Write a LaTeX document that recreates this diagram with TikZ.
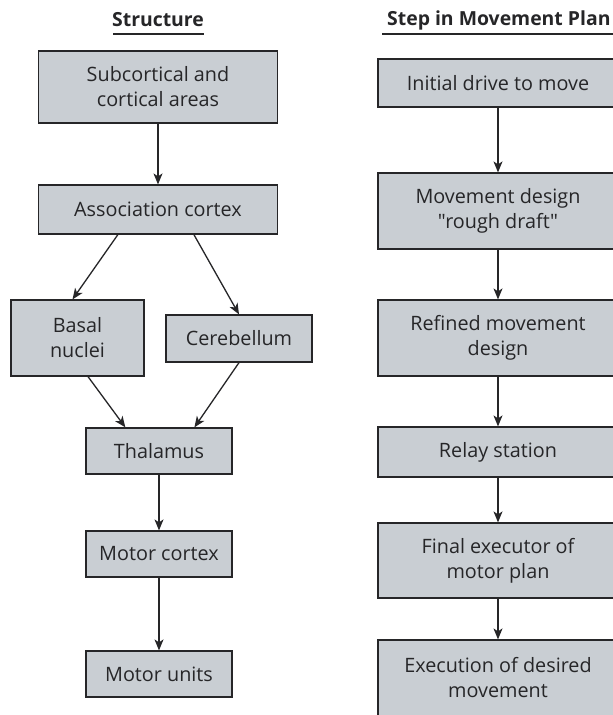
\documentclass[tikz,border=0pt]{standalone}
\usepackage{fontspec}
\setmainfont{Open Sans}[Ligatures=TeXOff]
\usetikzlibrary{arrows.meta,calc}
\definecolor{boxfill}{RGB}{201,206,211}
\definecolor{ink}{RGB}{38,38,40}
\tikzset{
  box/.style={draw=ink, fill=boxfill, line width=1.2pt, inner sep=0pt,
    align=center, text=ink, font=\fontsize{19.8}{25}\selectfont},
  flow/.style={draw=ink, line width=1.3pt,
    -{Stealth[length=11pt,width=9pt,inset=3pt]}},
  heading/.style={text=ink, font=\fontsize{19.4}{22}\selectfont\bfseries, inner sep=0pt}
}
\begin{document}
\begin{tikzpicture}[x=1pt,y=-1pt]
\useasboundingbox (0,0) rectangle (613,715);
\clip (0,0) rectangle (613,715);
\fill[white] (0,0) rectangle (613,715);

% column headings
\node[heading] (hstruct) at (158,20) {Structure};
\draw[ink, line width=2pt] (113,34) -- (204,34);
\node[heading, anchor=west] (hstep) at (387,20) {Step in Movement Plan};
\draw[ink, line width=2pt] (382,34) -- (620,34);

% structures
\node[box, minimum width=239pt, minimum height=72pt] (sub) at (158,87) {Subcortical and\\cortical areas};
\node[box, minimum width=239pt, minimum height=49pt] (assoc) at (158,209.5) {Association cortex};
\node[box, minimum width=133pt, minimum height=76pt] (basal) at (77.5,338) {Basal\\nuclei};
\node[box, minimum width=146pt, minimum height=47pt] (cereb) at (239,338.5) {Cerebellum};
\node[box, minimum width=146pt, minimum height=46pt] (thal) at (159,451) {Thalamus};
\node[box, minimum width=146pt, minimum height=46pt] (mctx) at (159,554) {Motor cortex};
\node[box, minimum width=146pt, minimum height=46pt] (munits) at (159,674) {Motor units};

\draw[flow] (sub.south) -- (assoc.north);
\draw[flow] ($(assoc.south west)+(80,0)$) -- ($(basal.north)+(-5,0)$);
\draw[flow] ($(assoc.south west)+(156,0)$) -- (cereb.north);
\draw[flow] ($(basal.south)+(10.5,0)$) -- ($(thal.north west)+(40,0)$);
\draw[flow] (cereb.south) -- ($(thal.north west)+(109,0)$);
\draw[flow] (thal.south) -- (mctx.north);
\draw[flow] (mctx.south) -- (munits.north);

% steps of the movement plan
\node[box, minimum width=240pt, minimum height=48pt] (s1) at (498,83) {Initial drive to move};
\node[box, minimum width=240pt, minimum height=76pt] (s2) at (498,211) {Movement design\\"rough draft"};
\node[box, minimum width=240pt, minimum height=76pt] (s3) at (498,338) {Refined movement\\design};
\node[box, minimum width=240pt, minimum height=50pt] (s4) at (498,452) {Relay station};
\node[box, minimum width=240pt, minimum height=75pt] (s5) at (498,560.5) {Final executor of\\motor plan};
\node[box, minimum width=240pt, minimum height=76pt] (s6) at (498,678) {Execution of desired\\movement};

\draw[flow] (s1.south) -- (s2.north);
\draw[flow] (s2.south) -- (s3.north);
\draw[flow] (s3.south) -- (s4.north);
\draw[flow] (s4.south) -- (s5.north);
\draw[flow] (s5.south) -- (s6.north);
\end{tikzpicture}
\end{document}
